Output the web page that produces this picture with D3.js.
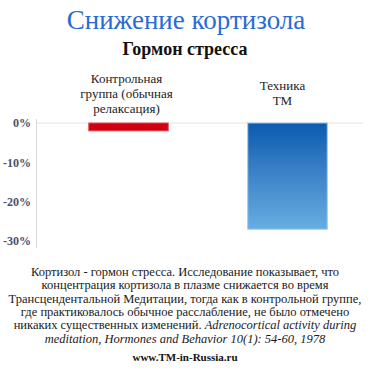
<!DOCTYPE html>
<html>
<head>
<meta charset="utf-8">
<script src="https://cdn.jsdelivr.net/npm/d3@7"></script>
<style>
  body { margin: 0; background: #fff; }
  svg { display: block; }
  svg text { font-family: "Liberation Serif", "DejaVu Serif", serif; }
</style>
</head>
<body>
<div id="chart"></div>
<script>
// Data
const categories = ["control", "tm"];
const categoryLabels = [["Контрольная", "группа (обычная", "релаксация)"], ["Техника", "ТМ"]];
const values = [-0.02, -0.27];
const tickValues = [0, -0.1, -0.2, -0.3];

const bodyLines = [
    [["Кортизол - гормон стресса. Исследование показывает, что", false]],
    [["концентрация кортизола в плазме снижается во время", false]],
    [["Трансцендентальной Медитации, тогда как в контрольной группе,", false]],
    [["где практиковалось обычное расслабление, не было отмечено", false]],
    [["никаких существенных изменений. ", false], ["Adrenocortical activity during", true]],
    [["meditation, Hormones and Behavior 10(1): 54-60, 1978", true]]
];

const serif = "'Liberation Serif', serif";
const svgWidth = 370;
const svgHeight = 370;

const svg = d3.select("#chart")
    .append("svg")
    .attr("width", svgWidth)
    .attr("height", svgHeight);

// Gradient for the TM bar
const defs = svg.append("defs");
const grad = defs.append("linearGradient")
    .attr("id", "blueGrad")
    .attr("x1", 0).attr("y1", 0).attr("x2", 0).attr("y2", 1);
grad.append("stop").attr("offset", "0%").attr("stop-color", "#0a5bb0");
grad.append("stop").attr("offset", "45%").attr("stop-color", "#3a80c6");
grad.append("stop").attr("offset", "100%").attr("stop-color", "#66aee2");

// Titles
svg.append("text")
    .attr("x", 186).attr("y", 29)
    .attr("text-anchor", "middle")
    .attr("font-family", serif)
    .attr("font-size", 27)
    .attr("fill", "#2a6bd3")
    .text("Снижение кортизола");

svg.append("text")
    .attr("x", 185).attr("y", 55)
    .attr("text-anchor", "middle")
    .attr("font-family", serif)
    .attr("font-size", 18)
    .attr("font-weight", "bold")
    .attr("fill", "#111")
    .text("Гормон стресса");

// Scales
const x = d3.scaleBand()
    .domain(categories)
    .range([49, 367])
    .paddingInner(0.5)
    .paddingOuter(0.25);

const y = d3.scaleLinear()
    .domain([-0.3, 0])
    .range([241, 123]);

// Zero grid line
svg.append("line")
    .attr("x1", 36).attr("x2", 363)
    .attr("y1", y(0)).attr("y2", y(0))
    .attr("stroke", "#e3e3e3")
    .attr("stroke-width", 1);

// Y axis (plain hyphen, like the original)
const leftAxis = d3.axisLeft(y)
    .tickValues(tickValues)
    .tickSize(0)
    .tickPadding(5)
    .tickFormat(d => (d < 0 ? "-" : "") + Math.round(Math.abs(d) * 100) + "%");

const axisG = svg.append("g")
    .attr("transform", "translate(36,0)")
    .call(leftAxis)
    .attr("font-family", serif);
axisG.select(".domain").remove();
axisG.selectAll("text")
    .attr("font-size", 12)
    .attr("font-weight", "bold")
    .attr("fill", "#45526e");
axisG.append("line")
    .attr("x1", 0.5).attr("x2", 0.5)
    .attr("y1", 119).attr("y2", 248)
    .attr("stroke", "#dadada");

// Bars
svg.selectAll("rect.bar")
    .data(values)
    .join("rect")
    .attr("class", "bar")
    .attr("x", (d, i) => x(categories[i]))
    .attr("y", d => y(0))
    .attr("width", x.bandwidth())
    .attr("height", d => y(d) - y(0))
    .attr("fill", (d, i) => i === 0 ? "#d0000f" : "url(#blueGrad)")
    .attr("stroke", (d, i) => i === 0 ? "#e05060" : "#9cc8ea")
    .attr("stroke-width", 1);

// Category labels
const catOffsets = [[83, 15], [90, 15]];
categoryLabels.forEach((lines, i) => {
    const t = svg.append("text")
        .attr("text-anchor", "middle")
        .attr("font-family", serif)
        .attr("font-size", 13)
        .attr("fill", "#222");
    lines.forEach((line, j) => {
        t.append("tspan")
            .attr("x", x(categories[i]) + x.bandwidth() / 2 + (i === 0 ? -2 : -5))
            .attr("y", catOffsets[i][0] + j * catOffsets[i][1])
            .text(line);
    });
});

// Description
bodyLines.forEach((parts, i) => {
    const t = svg.append("text")
        .attr("x", 185)
        .attr("y", 276 + i * 13.3)
        .attr("text-anchor", "middle")
        .attr("font-family", serif)
        .attr("font-size", 12.5)
        .attr("fill", "#1a1a1a");
    parts.forEach(p => {
        t.append("tspan")
            .attr("font-style", p[1] ? "italic" : "normal")
            .text(p[0]);
    });
});

svg.append("text")
    .attr("x", 185).attr("y", 361)
    .attr("text-anchor", "middle")
    .attr("font-family", serif)
    .attr("font-size", 11)
    .attr("font-weight", "bold")
    .attr("fill", "#111")
    .text("www.TM-in-Russia.ru");
</script>
</body>
</html>
